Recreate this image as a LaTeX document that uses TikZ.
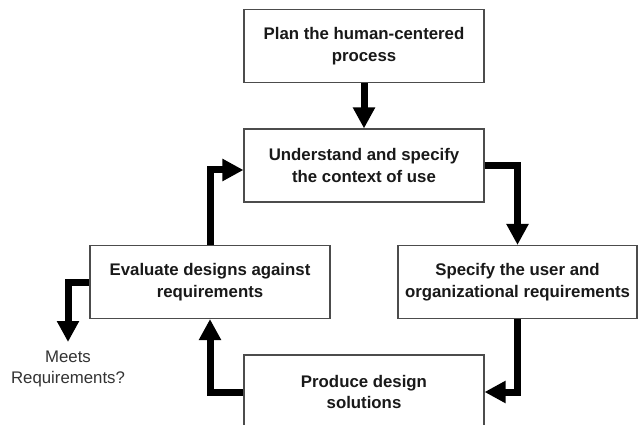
\documentclass[tikz,border=0pt]{standalone}
\usepackage{fontspec}
\setmainfont{Liberation Sans}
\usetikzlibrary{arrows.meta,calc}
\begin{document}
\begin{tikzpicture}[x=1pt,y=-1pt,
  box/.style={draw=black!70, line width=1.1pt, fill=white, minimum width=240pt, minimum height=73pt, align=center, font=\fontsize{16.8}{21.5}\selectfont\bfseries, text=black!90, inner sep=0pt},
  flow/.style={line width=7pt, line join=miter, -{Triangle[width=21pt,length=21pt]}, black},
  note/.style={font=\fontsize{16.8}{20.5}\selectfont, text=black!80, align=center, inner sep=0pt}
]
\useasboundingbox (0,0) rectangle (638,425);
\clip (0,0) rectangle (638,425);
\fill[white] (0,0) rectangle (638,425);
\node[box] (plan) at (364,46) {Plan the human-centered\\process};
\node[box] (under) at (364,165.5) {Understand and specify\\the context of use};
\node[box] (eval) at (210,282) {Evaluate designs against\\requirements};
\node[box, minimum width=239pt] (spec) at (517.5,282) {Specify the user and\\organizational requirements};
\node[box, minimum height=74pt] (prod) at (364,392) {Produce design\\solutions};
\node[note, anchor=north] (meets) at (68,351) {Meets\\Requirements?};

\draw[flow] (plan.south) -- (under.north);
\draw[flow] (under.east) -| (spec.north);
\draw[flow] (spec.south) |- (prod.east);
\draw[flow] (prod.west) -| (eval.south);
\draw[flow] (eval.north) |- ($(under.west)+(0,4.5)$);
\draw[flow, shorten >=9pt] (eval.west) -| (meets.north);
\end{tikzpicture}
\end{document}
